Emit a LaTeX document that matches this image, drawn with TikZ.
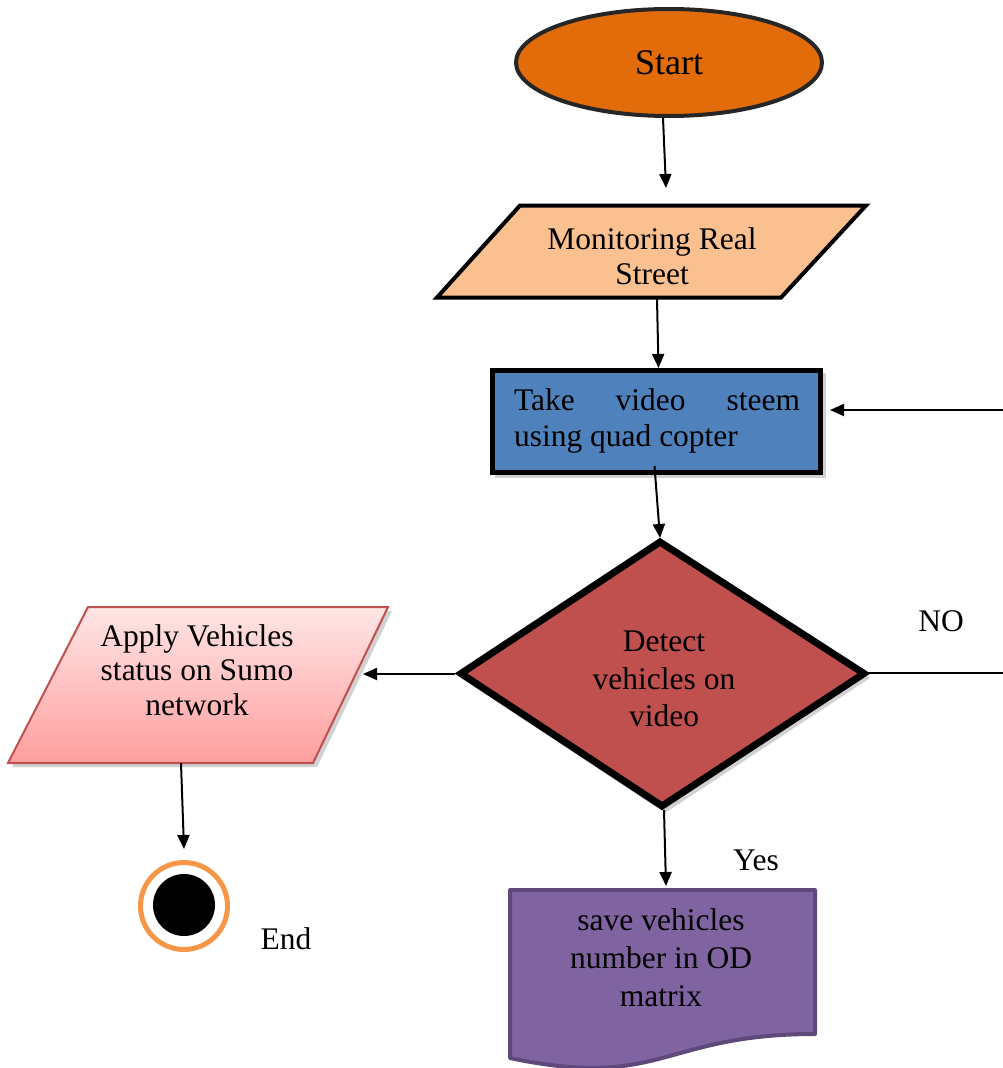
\documentclass[tikz,border=0pt]{standalone}
\usepackage{fontspec}
\setmainfont{Liberation Serif}
\usetikzlibrary{arrows.meta,shapes.geometric}

\definecolor{startfill}{HTML}{E36C0A}
\definecolor{startline}{HTML}{262626}
\definecolor{monfill}{HTML}{FAC090}
\definecolor{takefill}{HTML}{4F81BD}
\definecolor{detectfill}{HTML}{C0504D}
\definecolor{applytop}{HTML}{FFE6E6}
\definecolor{applybot}{HTML}{FF9E9E}
\definecolor{applyline}{HTML}{C0504D}
\definecolor{savefill}{HTML}{8064A2}
\definecolor{saveline}{HTML}{5F497A}
\definecolor{endring}{HTML}{F79646}

\begin{document}
\begin{tikzpicture}[x=1pt,y=-1pt,
  txt/.style={font=\fontsize{31.5}{35}\selectfont, inner sep=0pt, align=center},
  conn/.style={line width=2pt, -{Triangle[length=14pt,width=12pt]}},
  shadowfill/.style={fill=black, opacity=0.18}]

\useasboundingbox (0,0) rectangle (1003,1068);
\clip (0,0) rectangle (1003,1068);

% ---- Start terminator
\node[ellipse, draw=startline, line width=4pt, fill=startfill,
      minimum width=306pt, minimum height=107pt,
      font=\fontsize{36}{40}\selectfont] (start) at (669,62.5) {Start};

% ---- Input: Monitoring Real Street
\filldraw[line width=4pt, fill=monfill, draw=black, line join=miter]
  (520,205.5) -- (866,205.5) -- (781,297.5) -- (437,297.5) -- cycle;
\node[txt] (mon) at (652,256) {Monitoring Real\\Street};
\coordinate (monIn)  at (666,188);
\coordinate (monOut) at (657,299);

% ---- Process: video stream (first line justified)
\fill[shadowfill] (495,373) rectangle (826,478);
\node[draw=black, line width=5pt, fill=takefill,
      minimum width=328pt, minimum height=102pt, inner sep=0pt] (take) at (656.5,421.5) {};
\node[inner sep=0pt, font=\fontsize{31.5}{36}\selectfont] (taketxt) at (657,421)
  {\vbox{\hbox to 286pt{Take\hfill video\hfill steem}\hbox to 286pt{using quad copter\hfill}}};

% ---- Decision
\fill[shadowfill] (663,545) -- (870,678) -- (665,813) -- (461,678) -- cycle;
\filldraw[line width=7pt, fill=detectfill, draw=black]
  (660,542) -- (864,673.5) -- (662,806) -- (461,673.5) -- cycle;
\node[txt, font=\fontsize{31.5}{37.5}\selectfont] (detect) at (664,679) {Detect\\vehicles on\\video};
\coordinate (dN) at (660,538);
\coordinate (dE) at (869,673);
\coordinate (dS) at (664,810);
\coordinate (dW) at (455,674);

% ---- Output: Sumo network
\fill[shadowfill] (92,611) -- (392,611) -- (317,767) -- (12,767) -- cycle;
\shade[top color=applytop, bottom color=applybot]
  (88,607) -- (388,607) -- (313,763) -- (8,763) -- cycle;
\draw[line width=2pt, draw=applyline, line join=miter]
  (88,607) -- (388,607) -- (313,763) -- (8,763) -- cycle;
\node[txt, font=\fontsize{31.5}{34.5}\selectfont] (apply) at (197,670) {Apply Vehicles\\status on Sumo\\network};
\coordinate (applyIn)  at (363,674);
\coordinate (applyOut) at (181,763);

% ---- End
\node[circle, draw=endring, line width=5pt, minimum size=87pt, inner sep=0pt] (endc) at (184,906) {};
\node[circle, fill=black, minimum size=62pt, inner sep=0pt] (enddot) at (184,905) {};
\node[txt] (endlbl) at (286,939) {End};

% ---- Document: OD matrix
\filldraw[line width=4pt, fill=savefill, draw=saveline, line join=round]
  (510,890) -- (815,890) -- (815,1034)
  .. controls (662,1034) and (662,1090) .. (510,1058) -- cycle;
\node[txt, font=\fontsize{31.5}{38}\selectfont] (save) at (661,958) {save vehicles\\number in OD\\matrix};
\coordinate (saveIn) at (666,886);

% ---- Branch labels
\node[txt] (nolbl)  at (941,621) {NO};
\node[txt] (yeslbl) at (756,860) {Yes};

% ---- Connectors
\draw[conn] ([xshift=-6pt]start.south) -- (monIn);
\draw[conn] (monOut) -- ([xshift=2pt]take.north);
\draw[conn] ([xshift=-2pt,yshift=9pt]take.south) -- (dN);
\draw[conn] (dW) -- (applyIn);
\draw[conn] (applyOut) -- ([yshift=11pt]endc.north);
\draw[conn] (dS) -- (saveIn);
\draw[conn] (dE) -- (1012,673) |- ([xshift=7pt,yshift=11.5pt]take.east);

\end{tikzpicture}
\end{document}
